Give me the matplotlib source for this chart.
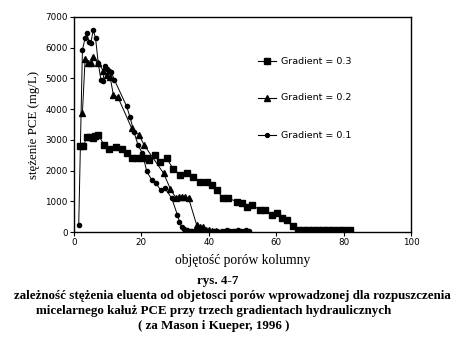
import matplotlib
matplotlib.use("Agg")
import matplotlib.pyplot as plt

# Gradient = 0.3 (squares)
g03_x = [1.8, 2.8, 3.8, 4.7, 5.5, 6.2, 7.2, 9.0, 10.5, 12.5, 14.2, 15.6, 17.1, 18.6,
         20.1, 21.6, 22.3, 24.0, 25.5, 27.5, 29.5, 31.5, 33.4, 35.4, 37.4, 39.4,
         40.9, 42.3, 44.3, 45.8, 48.3, 49.8, 51.2, 52.7, 55.2, 56.6, 58.7, 60.1,
         61.6, 63.1, 65.1, 66.6, 68.0, 69.5, 71.0, 72.5, 74.0, 75.5, 77.0, 78.5,
         80.0, 81.8]
g03_y = [2800, 2800, 3100, 3080, 3050, 3130, 3160, 2830, 2690, 2780, 2690, 2560, 2400, 2400,
         2400, 2400, 2350, 2510, 2290, 2400, 2040, 1860, 1910, 1800, 1640, 1640,
         1530, 1370, 1100, 1100, 990, 960, 820, 880, 720, 720, 550, 610,
         450, 390, 200, 65, 60, 50, 60, 50, 60, 50, 50, 60,
         50, 50]

# Gradient = 0.2 (triangles)
g02_x = [2.5, 3.3, 4.2, 5.0, 5.7, 7.2, 8.7, 9.8, 10.7, 11.7, 13.0, 17.1, 19.3, 20.8,
         26.6, 28.6, 30.3, 31.2, 32.1, 33.0, 34.0, 36.4, 37.5, 38.3, 39.2, 40.0,
         41.0, 42.0]
g02_y = [3890, 5630, 5510, 5490, 5710, 5500, 5250, 5100, 5050, 4460, 4400, 3380, 3160, 2830,
         1910, 1400, 1100, 1130, 1150, 1150, 1100, 230, 150, 170, 80, 60,
         40, 30]

# Gradient = 0.1 (circles)
g01_x = [1.4, 2.5, 3.3, 3.8, 4.5, 5.0, 5.7, 6.4, 7.2, 8.0, 8.6, 9.2, 9.9, 10.5, 11.1,
         12.0, 15.6, 16.6, 17.8, 19.0, 20.3, 21.6, 23.1, 24.3, 25.7, 27.0, 29.0,
         30.7, 31.3, 31.9, 32.7, 33.5, 34.3, 35.1, 35.9, 36.7, 37.5, 38.3, 39.1,
         39.9, 40.7, 41.5, 42.3, 43.1, 43.9, 44.7, 45.5, 46.3, 47.1, 47.9, 48.7,
         49.5, 50.3, 51.1, 51.9]
g01_y = [230, 5930, 6310, 6480, 6170, 6150, 6580, 6310, 5490, 4950, 4930, 5400, 5300, 5230, 5200,
         4950, 4100, 3750, 3250, 2830, 2560, 1970, 1690, 1590, 1370, 1420, 1100,
         550, 340, 170, 90, 50, 30, 20, 30, 10, 40, 20, 10,
         30, 0, 20, 40, 10, 30, 20, 50, 30, 40, 30, 50,
         40, 30, 50, 40]

series_labels = ["Gradient = 0.3", "Gradient = 0.2", "Gradient = 0.1"]
x_ticks = [0, 20, 40, 60, 80, 100]
y_ticks = [0, 1000, 2000, 3000, 4000, 5000, 6000, 7000]

fig = plt.figure(figsize=(4.64, 3.48), dpi=100)
ax = fig.add_axes([74 / 464, 1 - 232 / 348, 337 / 464, 215 / 348])

ax.plot(g03_x, g03_y, color="black", lw=0.7, marker="s", ms=4.8, mec="black", mfc="black")
ax.plot(g02_x, g02_y, color="black", lw=0.7, marker="^", ms=5.0, mec="black", mfc="black")
ax.plot(g01_x, g01_y, color="black", lw=0.7, marker="o", ms=3.0, mec="black", mfc="black")

ax.set_xlim(0, 100)
ax.set_ylim(0, 7000)
ax.set_xticks(x_ticks)
ax.set_yticks(y_ticks)
tick_font = {"family": ["Liberation Sans Narrow", "DejaVu Sans"], "size": 6.3}
ax.set_xticklabels([str(v) for v in x_ticks], fontdict=tick_font)
ax.set_yticklabels([str(v) for v in y_ticks], fontdict=tick_font)
ax.tick_params(direction="out", length=3, width=0.8, pad=1.5, colors="black")
for s in ax.spines.values():
    s.set_linewidth(1.0)
    s.set_color("black")

serif = ["Liberation Serif", "DejaVu Serif"]
ax.set_ylabel("stężenie PCE (mg/L)", family=serif, fontsize=9.3, labelpad=4)
ax.set_xlabel("objętość porów kolumny", family=serif, fontsize=9.8, labelpad=5)

# legend drawn inside the plot area
markers = [("s", 4.5), ("^", 4.8), ("o", 2.8)]
legend_y = [61, 98, 135]
for (m, ms), lab, py in zip(markers, series_labels, legend_y):
    yy = 1 - py / 348
    fig.add_artist(plt.Line2D([258 / 464, 276 / 464], [yy, yy], color="black", lw=0.8,
                              transform=fig.transFigure))
    fig.add_artist(plt.Line2D([267 / 464], [yy], marker=m, ms=ms, color="black",
                              transform=fig.transFigure))
    fig.text(281 / 464, yy, lab, family=["Liberation Sans Narrow", "DejaVu Sans"],
             fontsize=6.8, va="center", ha="left")

cap_font = dict(family=serif, fontweight="bold", fontsize=9.4, ha="center", va="center")
fig.text(218 / 464, 1 - 281 / 348, "rys. 4-7", **cap_font)
fig.text(232 / 464, 1 - 296 / 348,
         "zależność stężenia eluenta od objetosci porów wprowadzonej dla rozpuszczenia", **cap_font)
fig.text(214 / 464, 1 - 311 / 348,
         "micelarnego kałuż PCE przy trzech gradientach hydraulicznych", **cap_font)
fig.text(214 / 464, 1 - 326 / 348, "( za Mason i Kueper, 1996 )", **cap_font)

fig.savefig("out.png", dpi=100, facecolor="white")
